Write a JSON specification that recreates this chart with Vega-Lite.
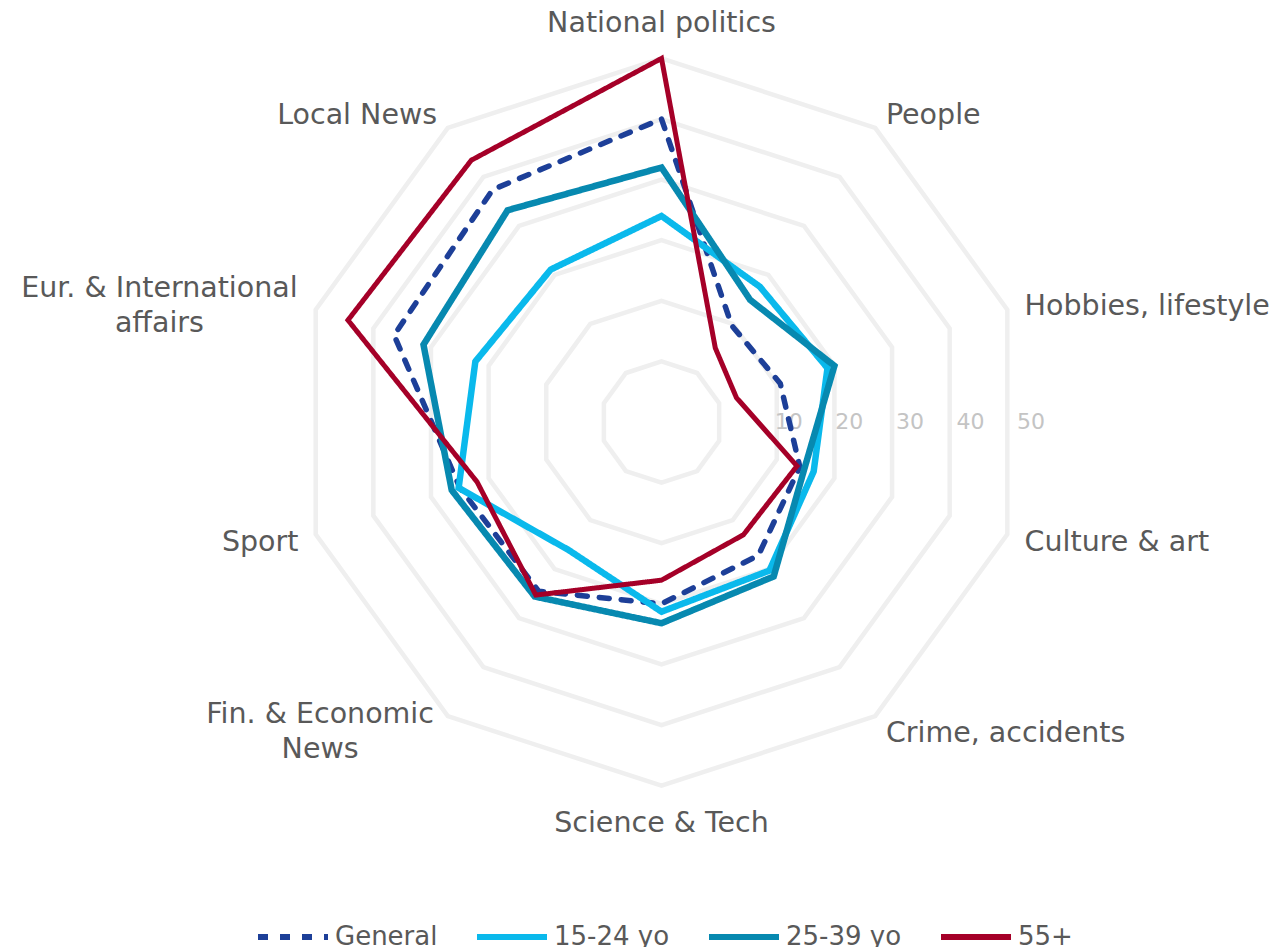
{
  "$schema": "https://vega.github.io/schema/vega-lite/v6.json",
  "width": 1286,
  "height": 947,
  "autosize": "none",
  "padding": 0,
  "background": "white",
  "config": {"view": {"stroke": null}, "font": "DejaVu Sans"},
  "datasets": {
    "series": [
      {"cat": "National politics", "idx": 0, "series": "General", "value": 40},
      {"cat": "People", "idx": 1, "series": "General", "value": 9.7},
      {"cat": "Hobbies, lifestyle", "idx": 2, "series": "General", "value": 10.6},
      {"cat": "Culture & art", "idx": 3, "series": "General", "value": 14},
      {"cat": "Crime, accidents", "idx": 4, "series": "General", "value": 17.2},
      {"cat": "Science & Tech", "idx": 5, "series": "General", "value": 20},
      {"cat": "Fin. & Economic News", "idx": 6, "series": "General", "value": 24.5},
      {"cat": "Sport", "idx": 7, "series": "General", "value": 25},
      {"cat": "Eur. & International affairs", "idx": 8, "series": "General", "value": 36.4},
      {"cat": "Local News", "idx": 9, "series": "General", "value": 37.4},
      {"cat": "National politics", "idx": 0, "series": "15-24 yo", "value": 24},
      {"cat": "People", "idx": 1, "series": "15-24 yo", "value": 17.6},
      {"cat": "Hobbies, lifestyle", "idx": 2, "series": "15-24 yo", "value": 18.8},
      {"cat": "Culture & art", "idx": 3, "series": "15-24 yo", "value": 16.4},
      {"cat": "Crime, accidents", "idx": 4, "series": "15-24 yo", "value": 20.3},
      {"cat": "Science & Tech", "idx": 5, "series": "15-24 yo", "value": 21.3},
      {"cat": "Fin. & Economic News", "idx": 6, "series": "15-24 yo", "value": 16.1},
      {"cat": "Sport", "idx": 7, "series": "15-24 yo", "value": 25.2},
      {"cat": "Eur. & International affairs", "idx": 8, "series": "15-24 yo", "value": 22.3},
      {"cat": "Local News", "idx": 9, "series": "15-24 yo", "value": 21.1},
      {"cat": "National politics", "idx": 0, "series": "25-39 yo", "value": 32},
      {"cat": "People", "idx": 1, "series": "25-39 yo", "value": 14.9},
      {"cat": "Hobbies, lifestyle", "idx": 2, "series": "25-39 yo", "value": 20},
      {"cat": "Culture & art", "idx": 3, "series": "25-39 yo", "value": 14.8},
      {"cat": "Crime, accidents", "idx": 4, "series": "25-39 yo", "value": 21.5},
      {"cat": "Science & Tech", "idx": 5, "series": "25-39 yo", "value": 23.2},
      {"cat": "Fin. & Economic News", "idx": 6, "series": "25-39 yo", "value": 25.6},
      {"cat": "Sport", "idx": 7, "series": "25-39 yo", "value": 26.4},
      {"cat": "Eur. & International affairs", "idx": 8, "series": "25-39 yo", "value": 31.3},
      {"cat": "Local News", "idx": 9, "series": "25-39 yo", "value": 33.2},
      {"cat": "National politics", "idx": 0, "series": "55+", "value": 50},
      {"cat": "People", "idx": 1, "series": "55+", "value": 5.1},
      {"cat": "Hobbies, lifestyle", "idx": 2, "series": "55+", "value": 3},
      {"cat": "Culture & art", "idx": 3, "series": "55+", "value": 13.5},
      {"cat": "Crime, accidents", "idx": 4, "series": "55+", "value": 13},
      {"cat": "Science & Tech", "idx": 5, "series": "55+", "value": 16.1},
      {"cat": "Fin. & Economic News", "idx": 6, "series": "55+", "value": 25.3},
      {"cat": "Sport", "idx": 7, "series": "55+", "value": 22},
      {"cat": "Eur. & International affairs", "idx": 8, "series": "55+", "value": 44.4},
      {"cat": "Local News", "idx": 9, "series": "55+", "value": 43.4}
    ],
    "rings": [
      {"ring": 0, "idx": [0, 1, 2, 3, 4, 5, 6, 7, 8, 9]},
      {"ring": 10, "idx": [0, 1, 2, 3, 4, 5, 6, 7, 8, 9]},
      {"ring": 20, "idx": [0, 1, 2, 3, 4, 5, 6, 7, 8, 9]},
      {"ring": 30, "idx": [0, 1, 2, 3, 4, 5, 6, 7, 8, 9]},
      {"ring": 40, "idx": [0, 1, 2, 3, 4, 5, 6, 7, 8, 9]},
      {"ring": 50, "idx": [0, 1, 2, 3, 4, 5, 6, 7, 8, 9]}
    ],
    "ticks": [{"tick": 10}, {"tick": 20}, {"tick": 30}, {"tick": 40}, {"tick": 50}],
    "cats": [
      {"idx": 0, "cat": "National politics"},
      {"idx": 1, "cat": "People"},
      {"idx": 2, "cat": "Hobbies, lifestyle"},
      {"idx": 3, "cat": "Culture & art"},
      {"idx": 4, "cat": "Crime, accidents"},
      {"idx": 5, "cat": "Science & Tech"},
      {"idx": 6, "cat": "Fin. & Economic\nNews"},
      {"idx": 7, "cat": "Sport"},
      {"idx": 8, "cat": "Eur. & International\naffairs"},
      {"idx": 9, "cat": "Local News"}
    ]
  },
  "encoding": {
    "x": {"field": "px", "type": "quantitative", "scale": {"domain": [-109.16, 103.05], "nice": false, "zero": false}, "axis": null},
    "y": {"field": "py", "type": "quantitative", "scale": {"domain": [-86.63, 69.64], "nice": false, "zero": false}, "axis": null}
  },
  "layer": [
    {
      "data": {"name": "rings"},
      "transform": [
        {"flatten": ["idx"]},
        {"calculate": "(datum.ring + 10) * sin(datum.idx * PI / 5)", "as": "px"},
        {"calculate": "(datum.ring + 10) * cos(datum.idx * PI / 5)", "as": "py"}
      ],
      "mark": {"type": "line", "interpolate": "linear-closed", "color": "#efefef", "strokeWidth": 4.5, "strokeJoin": "miter"},
      "encoding": {
        "detail": {"field": "ring", "type": "nominal"},
        "order": {"field": "idx", "type": "quantitative"}
      }
    },
    {
      "data": {"name": "ticks"},
      "transform": [
        {"calculate": "datum.tick + 10", "as": "px"},
        {"calculate": "0", "as": "py"}
      ],
      "mark": {"type": "text", "align": "center", "baseline": "middle", "dx": 6, "fontSize": 22, "color": "#c4c4c4"},
      "encoding": {"text": {"field": "tick", "type": "quantitative"}}
    },
    {
      "data": {"name": "cats"},
      "transform": [
        {"filter": "datum.idx >= 1 && datum.idx <= 4"},
        {"calculate": "63 * sin(datum.idx * PI / 5)", "as": "px"},
        {"calculate": "63 * cos(datum.idx * PI / 5)", "as": "py"}
      ],
      "mark": {"type": "text", "align": "left", "baseline": "middle", "dy": 2, "fontSize": 28.5, "color": "#595959"},
      "encoding": {"text": {"field": "cat", "type": "nominal"}}
    },
    {
      "data": {"name": "cats"},
      "transform": [
        {"filter": "datum.idx == 7 || datum.idx == 9"},
        {"calculate": "63 * sin(datum.idx * PI / 5)", "as": "px"},
        {"calculate": "63 * cos(datum.idx * PI / 5)", "as": "py"}
      ],
      "mark": {"type": "text", "align": "right", "baseline": "middle", "dy": 2, "fontSize": 28.5, "color": "#595959"},
      "encoding": {"text": {"field": "cat", "type": "nominal"}}
    },
    {
      "data": {"name": "cats"},
      "transform": [
        {"filter": "datum.idx == 0 || datum.idx == 5"},
        {"calculate": "66 * sin(datum.idx * PI / 5)", "as": "px"},
        {"calculate": "66 * cos(datum.idx * PI / 5)", "as": "py"}
      ],
      "mark": {"type": "text", "align": "center", "baseline": "middle", "dy": 1, "fontSize": 28.5, "color": "#595959"},
      "encoding": {"text": {"field": "cat", "type": "nominal"}}
    },
    {
      "data": {"name": "cats"},
      "transform": [
        {"filter": "datum.idx == 8"},
        {"calculate": "63 * sin(datum.idx * PI / 5)", "as": "px"},
        {"calculate": "63 * cos(datum.idx * PI / 5)", "as": "py"}
      ],
      "mark": {"type": "text", "align": "center", "baseline": "middle", "dx": -139, "dy": -16, "fontSize": 28.5, "color": "#595959", "lineBreak": "\n", "lineHeight": 35},
      "encoding": {"text": {"field": "cat", "type": "nominal"}}
    },
    {
      "data": {"name": "cats"},
      "transform": [
        {"filter": "datum.idx == 6"},
        {"calculate": "63 * sin(datum.idx * PI / 5)", "as": "px"},
        {"calculate": "63 * cos(datum.idx * PI / 5)", "as": "py"}
      ],
      "mark": {"type": "text", "align": "center", "baseline": "middle", "dx": -117, "dy": -17, "fontSize": 28.5, "color": "#595959", "lineBreak": "\n", "lineHeight": 35},
      "encoding": {"text": {"field": "cat", "type": "nominal"}}
    },
    {
      "data": {"name": "series"},
      "transform": [
        {"calculate": "(datum.value + 10) * sin(datum.idx * PI / 5)", "as": "px"},
        {"calculate": "(datum.value + 10) * cos(datum.idx * PI / 5)", "as": "py"}
      ],
      "mark": {"type": "line", "interpolate": "linear-closed", "strokeJoin": "miter", "strokeCap": "round"},
      "encoding": {
        "color": {
          "field": "series",
          "type": "nominal",
          "scale": {"domain": ["General", "15-24 yo", "25-39 yo", "55+"], "range": ["#1d3f98", "#0ab9ec", "#0789b0", "#a50028"]},
          "legend": {
            "title": null,
            "orient": "none",
            "direction": "horizontal",
            "legendX": 255,
            "legendY": 899,
            "symbolType": "stroke",
            "symbolSize": 4900,
            "symbolStrokeWidth": 6,
            "labelFontSize": 26,
            "labelColor": "#595959",
            "labelFont": "DejaVu Sans",
            "labelOffset": 4,
            "labelLimit": 0,
            "columnPadding": 27,
            "padding": 0
          }
        },
        "strokeDash": {
          "field": "series",
          "type": "nominal",
          "scale": {"domain": ["General", "15-24 yo", "25-39 yo", "55+"], "range": [[10, 12], [1, 0], [1, 0], [1, 0]]}
        },
        "strokeWidth": {
          "condition": [
            {"test": "datum.series === '55+'", "value": 5},
            {"test": "datum.series === 'General'", "value": 5.5}
          ],
          "value": 6.5
        },
        "order": {"field": "idx", "type": "quantitative"}
      }
    }
  ]
}
